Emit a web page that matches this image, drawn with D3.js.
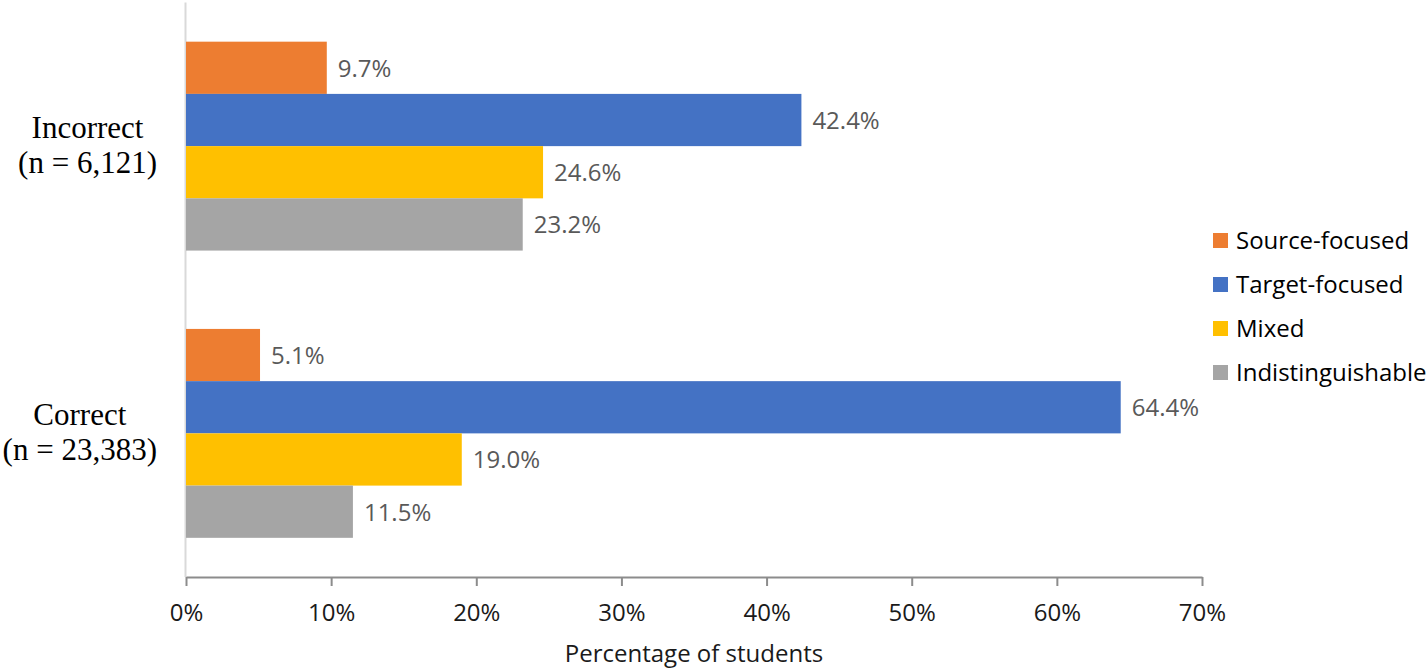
<!DOCTYPE html>
<html>
<head>
<meta charset="utf-8">
<script src="https://cdn.jsdelivr.net/npm/d3@7"></script>
<style>
  html, body { margin: 0; padding: 0; background: #fff; }
  svg { display: block; }
</style>
</head>
<body>
<svg id="chart" width="1428" height="670"></svg>
<script>
// ---- data ----
const categories = ["Incorrect", "Correct"];
const categoryLines = [["Incorrect", "(n = 6,121)"], ["Correct", "(n = 23,383)"]];
const series = ["Source-focused", "Target-focused", "Mixed", "Indistinguishable"];
const colors = ["#ED7D31", "#4472C4", "#FFC000", "#A5A5A5"];
const incorrectValues = [9.7, 42.4, 24.6, 23.2];
const correctValues = [5.1, 64.4, 19.0, 11.5];
const tickValues = [0, 10, 20, 30, 40, 50, 60, 70];
const tickLabels = ["0%", "10%", "20%", "30%", "40%", "50%", "60%", "70%"];
const xTitle = "Percentage of students";

const valuesByCat = { "Incorrect": incorrectValues, "Correct": correctValues };

const svg = d3.select("#chart");
const plotLeft = 186, plotRight = 1202, plotTop = 2.5, plotBottom = 577;
const sansFont = "'Open Sans', 'Noto Sans', sans-serif";

const x = d3.scaleLinear().domain([0, 70]).range([plotLeft, plotRight]);
const y0 = d3.scaleBand().domain(categories).range([plotTop, plotBottom]).paddingInner(0).paddingOuter(0);
const y1 = d3.scaleBand().domain(series).range([0, y0.bandwidth()]).paddingInner(0).paddingOuter(0.75);

// vertical category axis line
svg.append("line")
  .attr("x1", plotLeft - 0.5).attr("x2", plotLeft - 0.5)
  .attr("y1", plotTop).attr("y2", plotBottom)
  .attr("stroke", "#d9d9d9").attr("stroke-width", 2);

// bars
const groups = svg.selectAll("g.cat").data(categories).join("g")
  .attr("class", "cat")
  .attr("transform", c => `translate(0,${y0(c)})`);

groups.each(function(c) {
  const g = d3.select(this);
  const data = series.map((s, i) => ({ s, v: valuesByCat[c][i], color: colors[i] }));
  g.selectAll("rect").data(data).join("rect")
    .attr("x", x(0))
    .attr("y", d => y1(d.s))
    .attr("width", d => x(d.v) - x(0))
    .attr("height", y1.bandwidth())
    .attr("fill", d => d.color);
  g.selectAll("text.val").data(data).join("text")
    .attr("class", "val")
    .attr("x", d => x(d.v) + 11)
    .attr("y", d => y1(d.s) + y1.bandwidth() / 2)
    .attr("dy", "0.37em")
    .attr("font-family", sansFont)
    .attr("font-size", 24)
    .attr("fill", "#595959")
    .text(d => d.v.toFixed(1) + "%");
});

// x axis
const xAxis = d3.axisBottom(x)
  .tickValues(tickValues)
  .tickFormat((d, i) => tickLabels[i])
  .tickSize(9)
  .tickPadding(18)
  .tickSizeOuter(0);
const ax = svg.append("g")
  .attr("transform", `translate(0,${plotBottom})`)
  .call(xAxis);
ax.select(".domain").attr("stroke", "#8c8c8c").attr("stroke-width", 2);
ax.selectAll(".tick line").attr("stroke", "#8c8c8c").attr("stroke-width", 2);
ax.selectAll(".tick text")
  .attr("font-family", sansFont)
  .attr("font-size", 24)
  .attr("fill", "#1a1a1a");

// x title
svg.append("text")
  .attr("x", 694)
  .attr("y", 661.5)
  .attr("text-anchor", "middle")
  .attr("font-family", sansFont)
  .attr("font-size", 24)
  .attr("fill", "#1a1a1a")
  .text(xTitle);

// category labels
categories.forEach((c, ci) => {
  const lines = categoryLines[ci];
  const g = svg.append("g");
  const cy = y0(c) + y0.bandwidth() / 2;
  const texts = lines.map((ln, li) => g.append("text")
    .attr("y", cy - 8.5 + li * 35)
    .attr("text-anchor", "middle")
    .attr("font-family", "'Liberation Serif', 'Times New Roman', serif")
    .attr("font-size", 31)
    .attr("fill", "#000")
    .text(ln));
  const maxW = d3.max(texts, t => t.node().getComputedTextLength());
  const center = 157 - maxW / 2;
  texts.forEach(t => t.attr("x", center));
});

// legend
const legend = svg.append("g").attr("transform", "translate(1213,233)");
series.forEach((s, i) => {
  const g = legend.append("g").attr("transform", `translate(0,${i * 44})`);
  g.append("rect").attr("width", 15).attr("height", 15).attr("fill", colors[i]);
  g.append("text")
    .attr("x", 23).attr("y", 7.5).attr("dy", "0.37em")
    .attr("font-family", sansFont)
    .attr("font-size", 24)
    .attr("fill", "#000")
    .text(s);
});
</script>
</body>
</html>
